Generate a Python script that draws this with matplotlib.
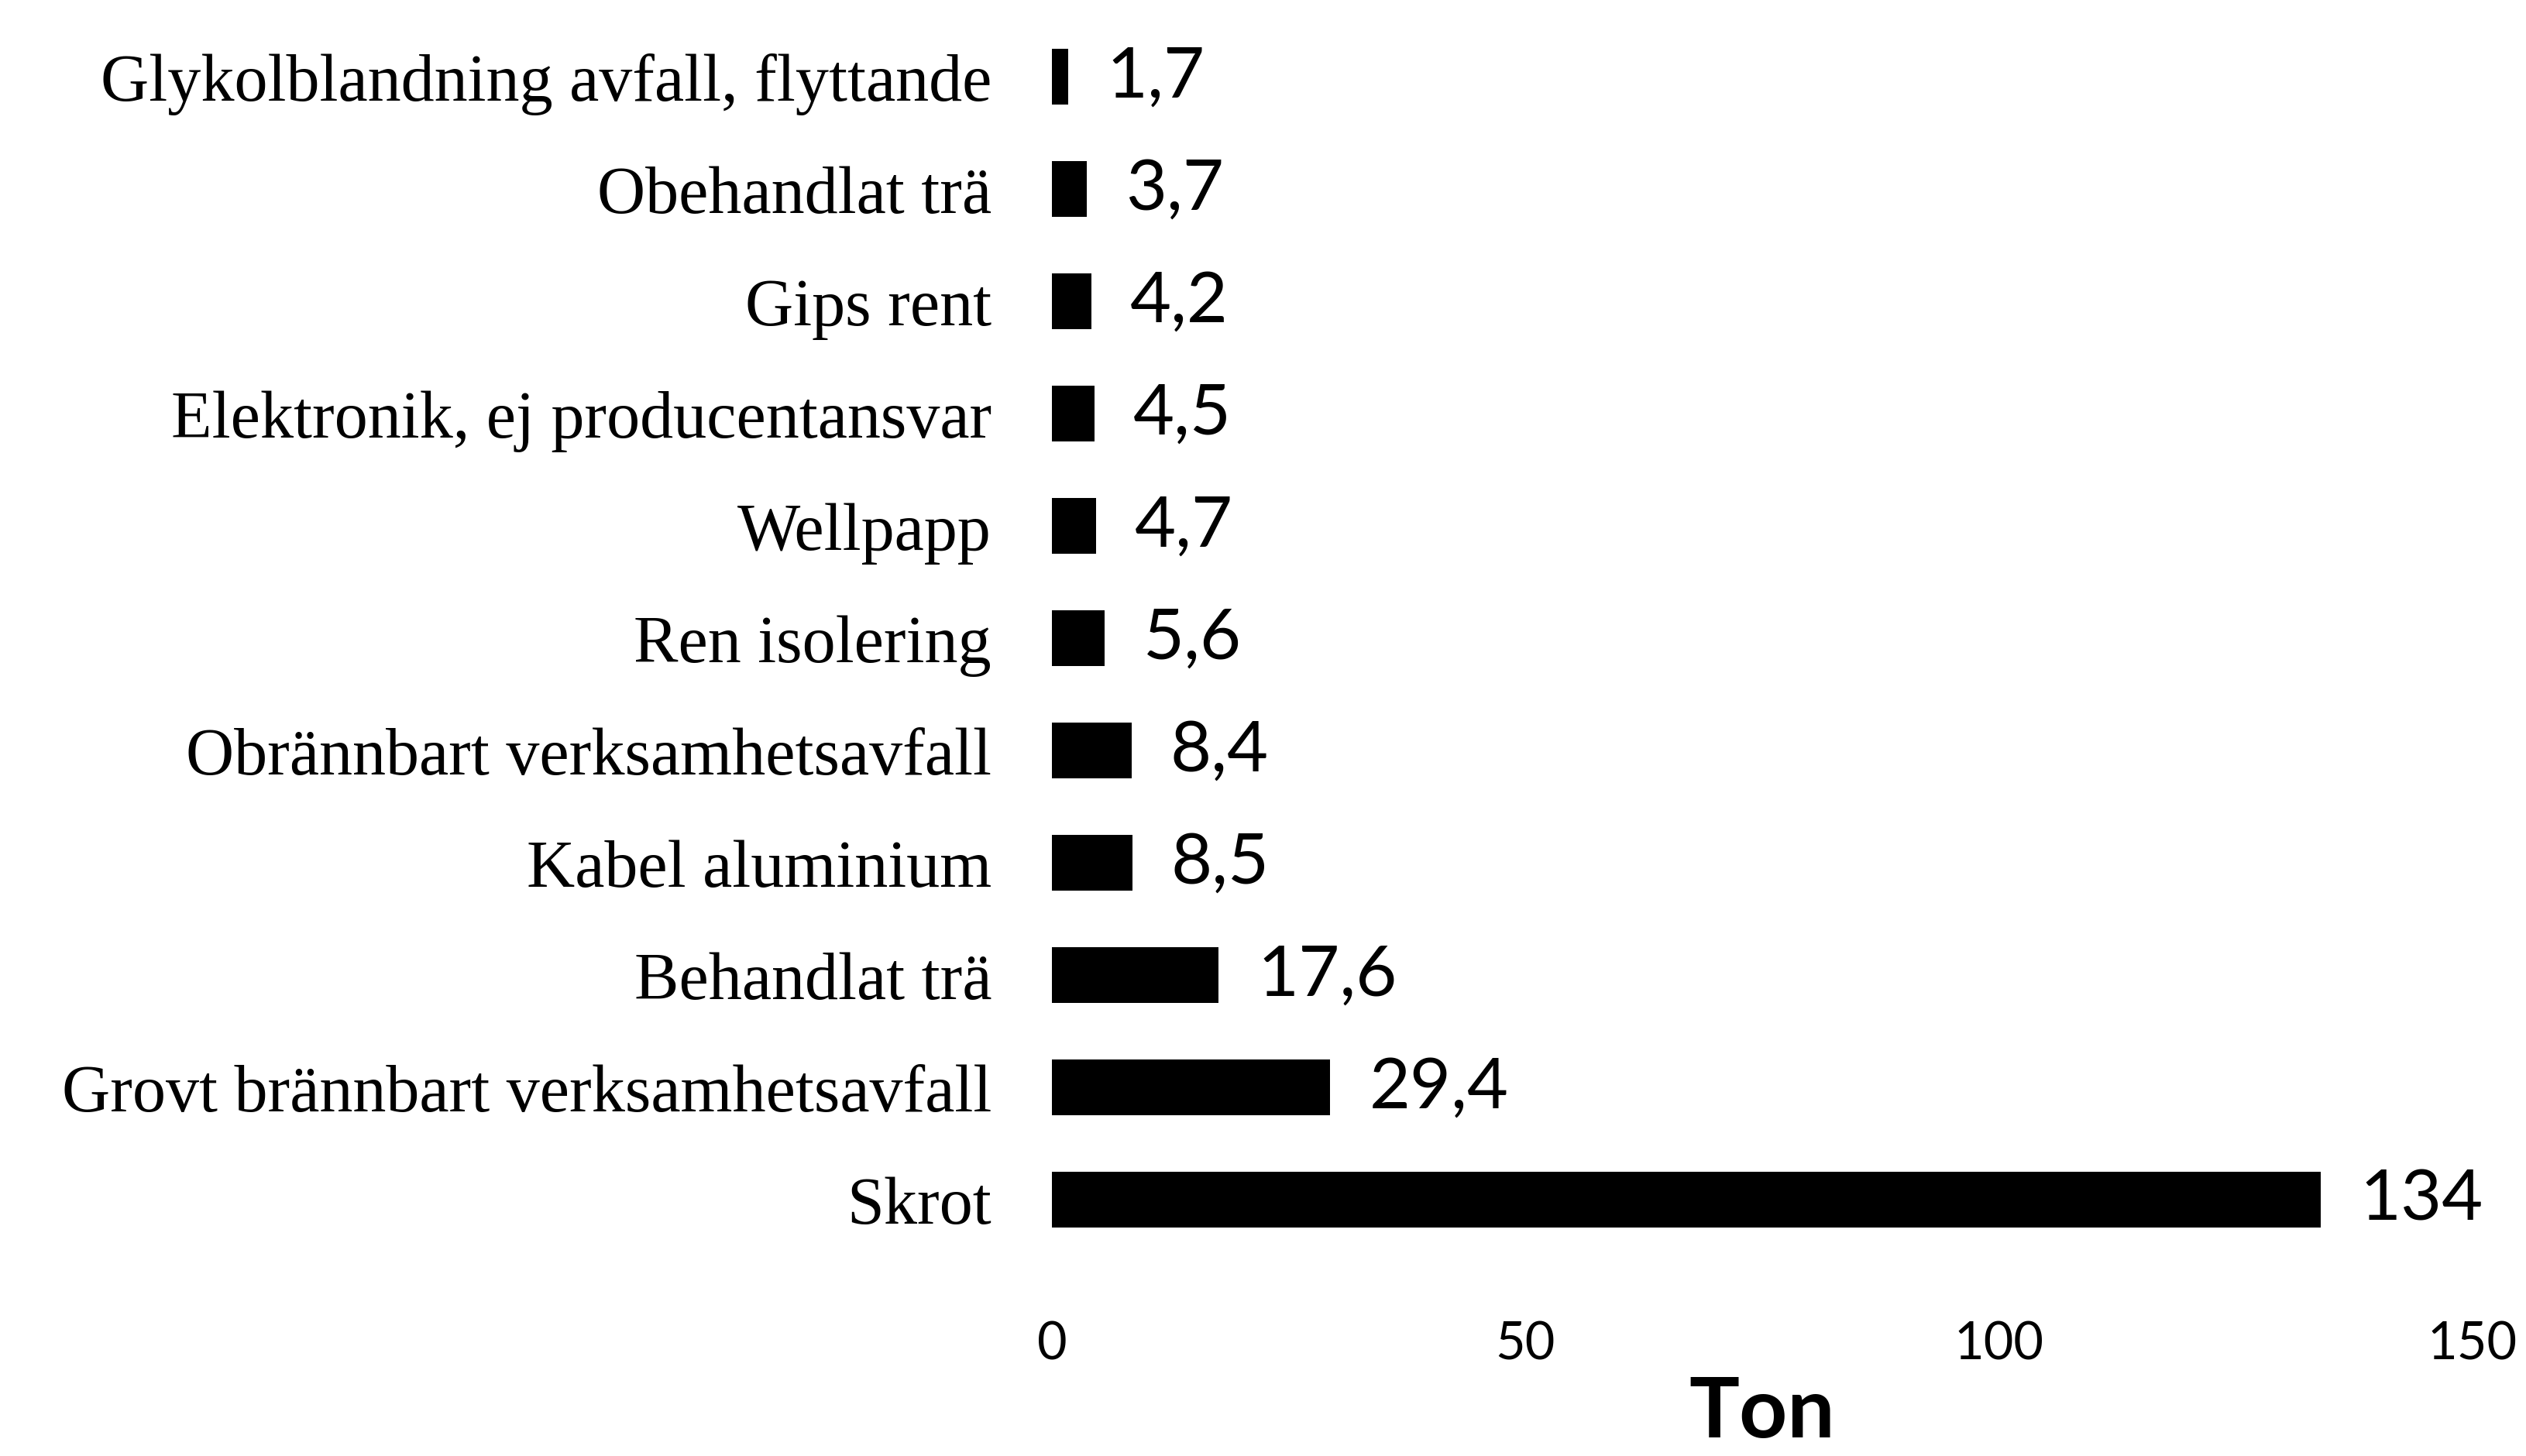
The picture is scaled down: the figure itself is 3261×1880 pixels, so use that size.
import matplotlib.pyplot as plt

# avfallsslag, uppifrån och ned som i originalet
categories = ['Glykolblandning avfall, flyttande', 'Obehandlat trä', 'Gips rent',
              'Elektronik, ej producentansvar', 'Wellpapp', 'Ren isolering',
              'Obrännbart verksamhetsavfall', 'Kabel aluminium', 'Behandlat trä',
              'Grovt brännbart verksamhetsavfall', 'Skrot']
tons = [1.7, 3.7, 4.2, 4.5, 4.7, 5.6, 8.4, 8.5, 17.6, 29.4, 134]
value_labels = ['1,7', '3,7', '4,2', '4,5', '4,7', '5,6', '8,4', '8,5', '17,6', '29,4', '134']
xticks = [0, 50, 100, 150]

fig = plt.figure(figsize=(32.61, 18.81), dpi=100)
ax = fig.add_axes([0.4164, 0.1374, 0.5624, 0.848])

ypos = list(range(len(categories)))[::-1]
ax.barh(ypos, tons, height=0.5, color='black')
for y, v, lab in zip(ypos, tons, value_labels):
    ax.annotate(lab, (v, y), xytext=(36, 0), textcoords='offset points',
                va='center', ha='left', fontsize=66, family='Lato')

ax.set_ylim(-0.5, len(categories) - 0.5)
ax.set_xlim(0, 150)
ax.set_yticks(ypos)
ax.set_yticklabels(categories, family='Liberation Serif', fontsize=62)
ax.set_xticks(xticks)
ax.set_xticklabels([str(t) for t in xticks], family='Lato', fontsize=48)
ax.tick_params(axis='y', length=0, pad=56)
ax.tick_params(axis='x', length=0, pad=60)
for s in ax.spines.values():
    s.set_visible(False)
ax.set_xlabel('Ton', family='Lato', fontweight='bold', fontsize=78, labelpad=6)

fig.savefig('out.png', dpi=100)
